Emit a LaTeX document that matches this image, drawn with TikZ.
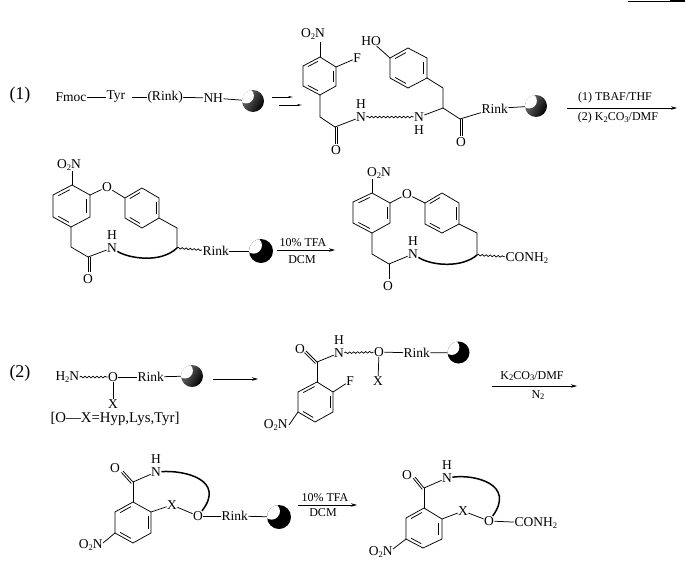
\documentclass[tikz,border=0pt]{standalone}
\usepackage{fontspec}
\setmainfont{Liberation Serif}
\usetikzlibrary{calc,arrows.meta,decorations.pathmorphing}
\newcommand\lowidx[1]{\raisebox{-.28ex}{\fontsize{8.5}{8.5}\selectfont #1}}
\newcommand\ringat[7]{%
  \path #2 coordinate (#11) #3 coordinate (#12) #4 coordinate (#13)
        #5 coordinate (#14) #6 coordinate (#15) #7 coordinate (#16);
  \coordinate (#1c) at ($(#11)!.5!(#14)$);
  \draw[bond] (#11)--(#12)--(#13)--(#14)--(#15)--(#16)--cycle;
  \draw[bond] ($($(#11)!.14!(#16)$)!.17!(#1c)$)--($($(#16)!.14!(#11)$)!.17!(#1c)$);
  \draw[bond] ($($(#12)!.14!(#13)$)!.17!(#1c)$)--($($(#13)!.14!(#12)$)!.17!(#1c)$);
  \draw[bond] ($($(#14)!.14!(#15)$)!.17!(#1c)$)--($($(#15)!.14!(#14)$)!.17!(#1c)$);
}
\newcommand\dblb[2]{\draw[bond] (#1)--(#2); \draw[bond] ($(#1)!2.2pt!90:(#2)$)--($(#2)!2.2pt!-90:(#1)$);}
\tikzset{
  x=1pt,y=-1pt,
  bond/.style={line width=0.75pt,black},
  arcbond/.style={line width=1.5pt,black},
  wavy/.style={line width=0.7pt,decorate,decoration={snake,segment length=4pt,amplitude=0.8pt}},
  tx/.style={font=\fontsize{13.5}{13.5}\selectfont,inner sep=0.3pt,text=black},
  notetx/.style={font=\fontsize{14.8}{14.8}\selectfont,inner sep=0.3pt,text=black},
  big/.style={font=\fontsize{18}{18}\selectfont,inner sep=0.6pt},
  reag/.style={font=\fontsize{12}{12}\selectfont,inner sep=0.5pt},
  rxn/.style={line width=0.8pt,-{Stealth[length=6pt,width=3.5pt]}},
  beadshape/.style={circle,inner sep=0pt,minimum size=#1,
    path picture={\fill[white] ($(path picture bounding box.center)+(-.31*#1,.24*#1)$) circle[radius=.35*#1];}},
  beadA/.style={beadshape=#1,left color=black!55,right color=black,shading angle=60},
  beadB/.style={beadshape=#1,fill=black},
}
\begin{document}
\begin{tikzpicture}
\useasboundingbox (0,0) rectangle (685,576);
\fill[white] (0,0) rectangle (685,576);
% top-right rule
\path (628,1) coordinate (ru1) (670,1) coordinate (ru2) (685,1) coordinate (ru3);
\draw[line width=0.9pt] (ru1)--(ru2);
\draw[line width=2pt] (ru2)--(ru3);

%%% Row 1
\node[big] (lab1) at (20,95) {(1)};
\node[tx,anchor=west] (fmoc) at (55,97) {Fmoc};
\node[tx,anchor=west] (tyr) at (106,97) {Tyr};
\node[tx,anchor=west] (rinkp) at (147,97) {(Rink)};
\node[tx,anchor=west] (nh) at (203,98) {NH};
\node[beadA=22pt] (bd1) at (253,101) {};
\draw[bond] (fmoc)--(tyr);
\draw[bond] (tyr.east)++(6,0) coordinate (ty) (ty)--(rinkp);
\draw[bond] (rinkp)--(nh);
\draw[bond] (nh)--(bd1);
\path (272,97) coordinate (e1a) (293,97) coordinate (e1b) (279,105) coordinate (e2a) (302,105) coordinate (e2b);
\draw[line width=.8pt,-{Stealth[length=5pt,width=2pt]}] (e1a)--(e1b);
\draw[line width=.8pt,-{Stealth[length=5pt,width=2pt]}] (e2a)--(e2b);

\ringat{a}{(320,57)}{(336,67)}{(336,86)}{(320,95)}{(303,86)}{(303,66)}
\node[tx] (o2na) at (313,34) {O\lowidx{2}N};
\node[tx] (fa) at (357,58) {F};
\path (320,42) coordinate (a7) (320,117) coordinate (a8) (335,127) coordinate (a9) (335,144) coordinate (a10);
\draw[bond] (a1)--(a7);
\draw[bond] (a2)--(fa);
\draw[bond] (a4)--(a8)--(a9);
\dblb{a9}{a10}
\node[tx] (oa) at (336,150) {O};
\node[tx] (na) at (361,117) {N};
\node[tx] (ha) at (361,104.5) {H};
\node[tx] (nb) at (419,117) {N};
\node[tx] (hb) at (419,130) {H};
\draw[bond] (a9)--(na);
\draw[wavy] (na.east)--(nb.west);
\ringat{b}{(408,48)}{(427,58)}{(427,78)}{(408,88)}{(390,78)}{(390,58)}
\node[tx] (hoa) at (371,41) {HO};
\draw[bond] (b6)--(hoa);
\path (443,88) coordinate (b7) (443,108) coordinate (b8) (460,119) coordinate (b9) (460,136) coordinate (b10);
\draw[bond] (b3)--(b7)--(b8);
\draw[bond] (nb)--(b8)--(b9);
\dblb{b9}{b10}
\node[tx] (ob) at (461,142) {O};
\node[tx,anchor=west] (rb) at (481,108.5) {Rink};
\draw[bond] (b9)--(rb);
\node[beadA=22pt] (bd2) at (536,106) {};
\draw[bond] (rb)--(bd2);
\path (567,108) coordinate (ar1) (677,108) coordinate (ar2);
\draw[rxn] (ar1)--(ar2);
\node[reag] (r1) at (615,98) {(1) TBAF/THF};
\node[reag] (r2) at (618,118) {(2) K\lowidx{2}CO\lowidx{3}/DMF};

%%% Row 2 left
\ringat{c}{(72,185)}{(90,195)}{(90,217)}{(71,227)}{(53,217)}{(53,195)}
\node[tx] (o2nc) at (69,165) {O\lowidx{2}N};
\path (72,171) coordinate (c7);
\draw[bond] (c1)--(c7);
\node[tx] (oc) at (107,187) {O};
\draw[bond] (c2)--(oc);
\ringat{d}{(142,188)}{(159,198)}{(159,218)}{(142,228)}{(125,218)}{(125,198)}
\draw[bond] (oc)--(d6);
\path (177,228) coordinate (d7) (177,248) coordinate (d8) (71,247) coordinate (c8) (88,257) coordinate (c9) (88,272) coordinate (c10);
\draw[bond] (d3)--(d7)--(d8);
\draw[bond] (c4)--(c8)--(c9);
\dblb{c9}{c10}
\node[tx] (oc2) at (88,279) {O};
\node[tx] (nc) at (112,248) {N};
\node[tx] (hc) at (112,235.5) {H};
\draw[bond] (c9)--(nc);
\draw[arcbond] (nc) .. controls (128,258) and (160,264) .. (d8);
\node[tx,anchor=west] (rc) at (202,251) {Rink};
\draw[wavy] (d8)--(rc);
\node[beadB=24pt] (bd3) at (261,251) {};
\draw[bond] (rc)--(bd3);
\path (277,250) coordinate (ar3) (335,250) coordinate (ar4);
\draw[rxn] (ar3)--(ar4);
\node[reag] (r3) at (303,243) {10\% TFA};
\node[reag] (r4) at (302,260) {DCM};

%%% Row 2 right
\ringat{e}{(372,193)}{(390,203)}{(390,223)}{(372,233)}{(353,223)}{(353,202)}
\node[tx] (o2ne) at (379,173) {O\lowidx{2}N};
\path (372,179) coordinate (e7);
\draw[bond] (e1)--(e7);
\node[tx] (oe) at (407,194) {O};
\draw[bond] (e2)--(oe);
\ringat{f}{(442,193)}{(459,203)}{(459,224)}{(442,233)}{(425,224)}{(425,203)}
\draw[bond] (oe)--(f6);
\path (477,233) coordinate (f7) (477,255) coordinate (f8) (372,254) coordinate (e8) (389,264) coordinate (e9) (389,279) coordinate (e10);
\draw[bond] (f3)--(f7)--(f8);
\draw[bond] (e4)--(e8)--(e9);
\draw[bond] (e9)--(e10);
\node[tx] (oe2) at (388,286) {O};
\node[tx] (ne) at (413,254) {N};
\node[tx] (he) at (413,241.5) {H};
\draw[bond] (e9)--(ne);
\draw[arcbond] (ne) .. controls (432,266) and (462,268) .. (f8);
\node[tx,anchor=west] (ce) at (505,258) {CONH\lowidx{2}};
\draw[wavy] (f8)--(ce);

%%% Row 3
\node[big] (lab2) at (20,373) {(2)};
\node[tx,anchor=west] (h2n) at (55,377) {H\lowidx{2}N};
\node[tx] (og) at (113,377) {O};
\node[tx,anchor=west] (rg) at (137,377) {Rink};
\node[tx] (xg) at (113,404) {X};
\node[beadA=22pt] (bd4) at (192,376) {};
\draw[wavy] (h2n)--(og);
\draw[bond] (og)--(rg);
\draw[bond] (rg)--(bd4);
\draw[bond] (og)--(xg);
\node[notetx,anchor=west] (note) at (50,419) {[O—X=Hyp,Lys,Tyr]};
\path (213,379) coordinate (ar5) (258,379) coordinate (ar6);
\draw[rxn] (ar5)--(ar6);

\ringat{g}{(317,382)}{(333,392)}{(333,412)}{(315,422)}{(298,412)}{(298,392)}
\path (317,362) coordinate (g7) (306,351) coordinate (g8) (289,425) coordinate (g9);
\draw[bond] (g1)--(g7);
\dblb{g7}{g8}
\node[tx] (og1) at (300,349) {O};
\node[tx] (ng) at (339,353) {N};
\node[tx] (hg) at (339,340.5) {H};
\draw[bond] (g7)--(ng);
\node[tx] (oh) at (379,352) {O};
\draw[wavy] (ng)--(oh);
\node[tx,anchor=west] (rh) at (403,353) {Rink};
\draw[bond] (oh)--(rh);
\node[beadB=22pt] (bd5) at (458.5,352.5) {};
\draw[bond] (rh)--(bd5);
\node[tx] (xh) at (378,381) {X};
\draw[bond] (oh)--(xh);
\node[tx] (fg) at (350,381) {F};
\draw[bond] (g2)--(fg);
\node[tx,anchor=east] (o2ng) at (288,425) {O\lowidx{2}N};
\draw[bond] (g5)--(g9);
\path (492,386) coordinate (ar7) (577,386) coordinate (ar8);
\draw[rxn] (ar7)--(ar8);
\node[reag] (r5) at (532,376) {K\lowidx{2}CO\lowidx{3}/DMF};
\node[reag] (r6) at (538,395) {N\lowidx{2}};

%%% Row 4 left
\ringat{i}{(133,502)}{(151,512)}{(151,533)}{(133,543)}{(115,533)}{(115,512)}
\path (133,482) coordinate (i7) (123,471) coordinate (i8) (103,543) coordinate (i9);
\draw[bond] (i1)--(i7);
\dblb{i7}{i8}
\node[tx] (oi) at (115,468) {O};
\node[tx] (ni) at (156,472) {N};
\node[tx] (hi) at (156,459) {H};
\draw[bond] (i7)--(ni);
\node[tx] (xi) at (172,505) {X};
\node[tx] (oj) at (198,516) {O};
\draw[bond] (i2)--(xi);
\draw[bond] (xi)--(oj);
\draw[arcbond] (ni) .. controls (185,470) and (226,480) .. (oj);
\node[tx,anchor=west] (rj) at (221,516) {Rink};
\draw[bond] (oj)--(rj);
\node[beadB=24pt] (bd6) at (279,517) {};
\draw[bond] (rj)--(bd6);
\node[tx,anchor=east] (o2ni) at (103,545) {O\lowidx{2}N};
\draw[bond] (i5)--(i9);
\path (298,505) coordinate (ar9) (357,505) coordinate (ar10);
\draw[rxn] (ar9)--(ar10);
\node[reag] (r7) at (325,498) {10\% TFA};
\node[reag] (r8) at (323,513) {DCM};

%%% Row 4 right
\ringat{k}{(424,508)}{(442,519)}{(442,539)}{(423,548)}{(406,539)}{(406,518)}
\path (424,488) coordinate (k7) (415,477) coordinate (k8) (393,549) coordinate (k9);
\draw[bond] (k1)--(k7);
\dblb{k7}{k8}
\node[tx] (ok) at (407,475) {O};
\node[tx] (nk) at (447,478) {N};
\node[tx] (hk) at (447,465) {H};
\draw[bond] (k7)--(nk);
\node[tx] (xk) at (463,511) {X};
\node[tx] (ol) at (489,521) {O};
\draw[bond] (k2)--(xk);
\draw[bond] (xk)--(ol);
\draw[arcbond] (nk) .. controls (474,474) and (516,484) .. (ol);
\node[tx,anchor=west] (cl) at (514,523) {CONH\lowidx{2}};
\draw[bond] (ol)--(cl);
\node[tx,anchor=east] (o2nk) at (393,552) {O\lowidx{2}N};
\draw[bond] (k5)--(k9);
\end{tikzpicture}
\end{document}
